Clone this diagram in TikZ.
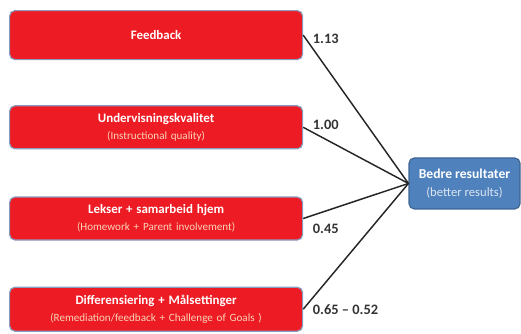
\documentclass[tikz,border=0pt]{standalone}
\usepackage{fontspec}
\setmainfont{Carlito}
\usepackage{tikz}
\usetikzlibrary{positioning}

\definecolor{boxred}{HTML}{ED1C24}
\definecolor{redline}{HTML}{8A9BBE}
\definecolor{peach}{HTML}{FAD3B8}
\definecolor{boxblue}{HTML}{4F81BD}
\definecolor{blueline}{HTML}{3F6593}
\definecolor{paleblue}{HTML}{DCE6F2}

\newcommand{\headtxt}[1]{{\fontsize{9.7}{13}\selectfont\bfseries #1}}
\newcommand{\subtxt}[1]{{\fontsize{8.3}{13}\selectfont #1}}

\begin{document}
\begin{tikzpicture}[
        factor/.style={rectangle, draw=redline, line width=0.9pt, fill=boxred,
            rounded corners=4pt, minimum width=219.75pt, text width=210pt,
            align=center, inner sep=2pt, font=\fontsize{8.5}{13}\selectfont, text=white},
        result/.style={rectangle, draw=blueline, line width=0.9pt, fill=boxblue,
            rounded corners=4pt, minimum width=83.25pt, minimum height=38.25pt,
            align=center, inner sep=2pt, font=\fontsize{9.5}{13}\selectfont, text=white},
        link/.style={draw=black!85, line width=1.1pt},
        num/.style={font=\fontsize{10.8}{12}\selectfont\bfseries, text=black!80,
            inner sep=0pt, anchor=west}
    ]
    \useasboundingbox (0,0) rectangle (390.75pt,-249.75pt);

    \node [factor, minimum height=36.75pt, anchor=north west] (fb) at (6.75pt,-7.5pt)
        {\headtxt{Feedback}};
    \node [factor, minimum height=32.25pt, below=33.75pt of fb] (quality)
        {\headtxt{Undervisningskvalitet}\\ \subtxt{\textcolor{peach}{(Instructional quality)}}};
    \node [factor, minimum height=32.25pt, below=35.25pt of quality] (home)
        {\headtxt{Lekser + samarbeid hjem}\\ \subtxt{\textcolor{peach}{(Homework + Parent involvement)}}};
    \node [factor, minimum height=33pt, below=34.5pt of home] (diff)
        {\headtxt{Differensiering + Målsettinger}\\ \subtxt{\textcolor{peach}{(Remediation/feedback + Challenge of Goals )}}};
    \node [result] (res) at (348.4pt,-137.6pt)
        {{\fontsize{10.2}{13}\selectfont\bfseries Bedre resultater}\\ \textcolor{paleblue}{(better results)}};

    \draw [link] (fb.east) -- (res.west)
        node[num, pos=0, xshift=6.75pt, yshift=-3pt] {1.13};
    \draw [link] (quality.east) -- (res.west)
        node[num, pos=0, xshift=6.75pt, yshift=1.5pt] {1.00};
    \draw [link] (home.east) -- (res.west)
        node[num, pos=0, xshift=6.75pt, yshift=-7.5pt] {0.45};
    \draw [link] (diff.east) -- (res.west)
        node[num, pos=0, xshift=6.75pt, yshift=0pt] {0.65 – 0.52};
\end{tikzpicture}
\end{document}
